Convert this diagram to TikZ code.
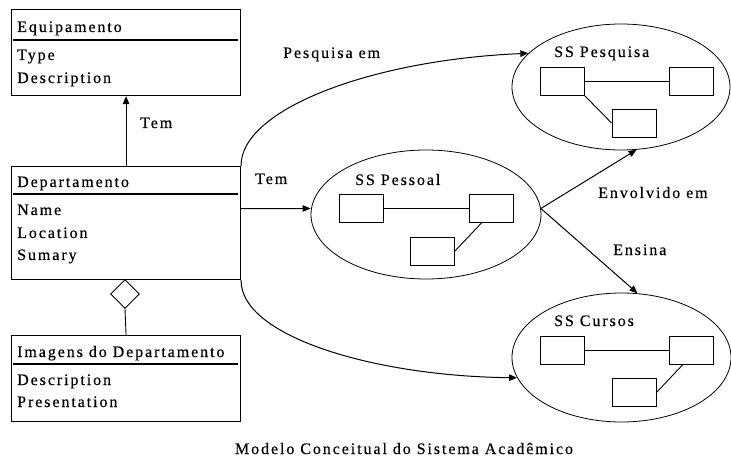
\documentclass[tikz,border=0pt]{standalone}
\usepackage{fontspec}
\setmainfont{Liberation Serif}[LetterSpace=12,FakeBold=0.35]
\usetikzlibrary{arrows.meta,shapes.geometric}

\begin{document}
\begin{tikzpicture}[x=1pt,y=-1pt,
  font=\fontsize{16}{19}\selectfont,
  classbox/.style={draw, line width=1.1pt, anchor=north west, inner sep=0, minimum width=229pt},
  sepline/.style={line width=2.8pt},
  txt/.style={anchor=base west, inner sep=0},
  cluster/.style={draw, ellipse, line width=0.8pt, inner sep=0},
  sub/.style={draw, line width=0.9pt, minimum width=44pt, minimum height=28pt, inner sep=0},
  link/.style={line width=0.9pt},
  arr/.style={line width=1pt, -{Triangle[length=8pt,width=6.5pt]}}]

\useasboundingbox (0,0) rectangle (731,457);

% ---- class Equipamento ----
\node[classbox, minimum height=86pt] (equip) at (11,9) {};
\draw[sepline] (13,40) -- (238,40);
\node[txt] (equipName) at (17,32) {Equipamento};
\node[txt] (equipA1) at (17,60) {Type};
\node[txt] (equipA2) at (17,83) {Description};

% ---- class Departamento ----
\node[classbox, minimum height=113pt] (dept) at (11,166) {};
\draw[sepline] (13,194) -- (238,194);
\node[txt] (deptName) at (17,187) {Departamento};
\node[txt] (deptA1) at (17,215) {Name};
\node[txt] (deptA2) at (17,238) {Location};
\node[txt] (deptA3) at (17,260) {Sumary};

% ---- aggregation diamond ----
\node[draw, diamond, line width=0.9pt, inner sep=0, minimum width=29pt, minimum height=29pt] (agg) at (125,294) {};

% ---- class Imagens do Departamento ----
\node[classbox, minimum height=86pt] (img) at (11,335) {};
\draw[sepline] (13,364) -- (238,364);
\node[txt] (imgName) at (17,357) {Imagens do Departamento};
\node[txt] (imgA1) at (17,385) {Description};
\node[txt] (imgA2) at (17,407) {Presentation};

\draw[link] (agg.south) -- (img.north);
\draw[arr] (dept.north) -- (equip.south);
\node[txt] (lblTem1) at (140,128) {Tem};

% ---- subsystem SS Pesquisa ----
\node[cluster, minimum width=218pt, minimum height=126pt] (pesq) at (621,87) {};
\node[txt] (pesqLbl) at (554,57) {SS Pesquisa};
\node[sub] (pq1) at (562,81) {};
\node[sub] (pq2) at (691,81) {};
\node[sub] (pq3) at (634,123) {};
\draw[link] (pq1.east) -- (pq2.west);
\draw[link] (pq1.south east) -- (pq3.west);

% ---- subsystem SS Pessoal ----
\node[cluster, minimum width=230pt, minimum height=129pt] (pess) at (426,214.5) {};
\node[txt] (pessLbl) at (355,185) {SS Pessoal};
\node[sub] (ps1) at (361,208) {};
\node[sub] (ps2) at (491,208) {};
\node[sub] (ps3) at (432.5,251) {};
\draw[link] (ps1.east) -- (ps2.west);
\draw[link] ([xshift=-9pt]ps2.south) -- (ps3.east);

% ---- subsystem SS Cursos ----
\node[cluster, minimum width=219pt, minimum height=129pt] (curs) at (621.5,357.5) {};
\node[txt] (cursLbl) at (554,326) {SS Cursos};
\node[sub] (cs1) at (562,350) {};
\node[sub] (cs2) at (691,350) {};
\node[sub] (cs3) at (634,392.5) {};
\draw[link] (cs1.east) -- (cs2.west);
\draw[link] ([xshift=-8pt]cs2.south) -- (cs3.east);

% ---- relationships ----
\draw[arr] (dept.north east) .. controls (240,110) and (370,60) .. (pesq.160);
\node[txt] (lblPesq) at (283,58) {Pesquisa em};

\draw[arr] ([yshift=14.5pt]dept.east) -- ([yshift=6pt]pess.west);
\node[txt] (lblTem2) at (255,184) {Tem};

\draw[arr] (dept.south east) .. controls (240,335) and (370,376) .. (curs.191);

\draw[arr] (pess.3) -- (pesq.-76);
\node[txt] (lblEnv) at (598,198) {Envolvido em};

\draw[arr] (pess.3) -- (curs.76.5);
\node[txt] (lblEns) at (613,255) {Ensina};

% ---- caption ----
\node[anchor=base, inner sep=0] (caption) at (404,454) {Modelo Conceitual do Sistema Acadêmico};
\end{tikzpicture}
\end{document}
